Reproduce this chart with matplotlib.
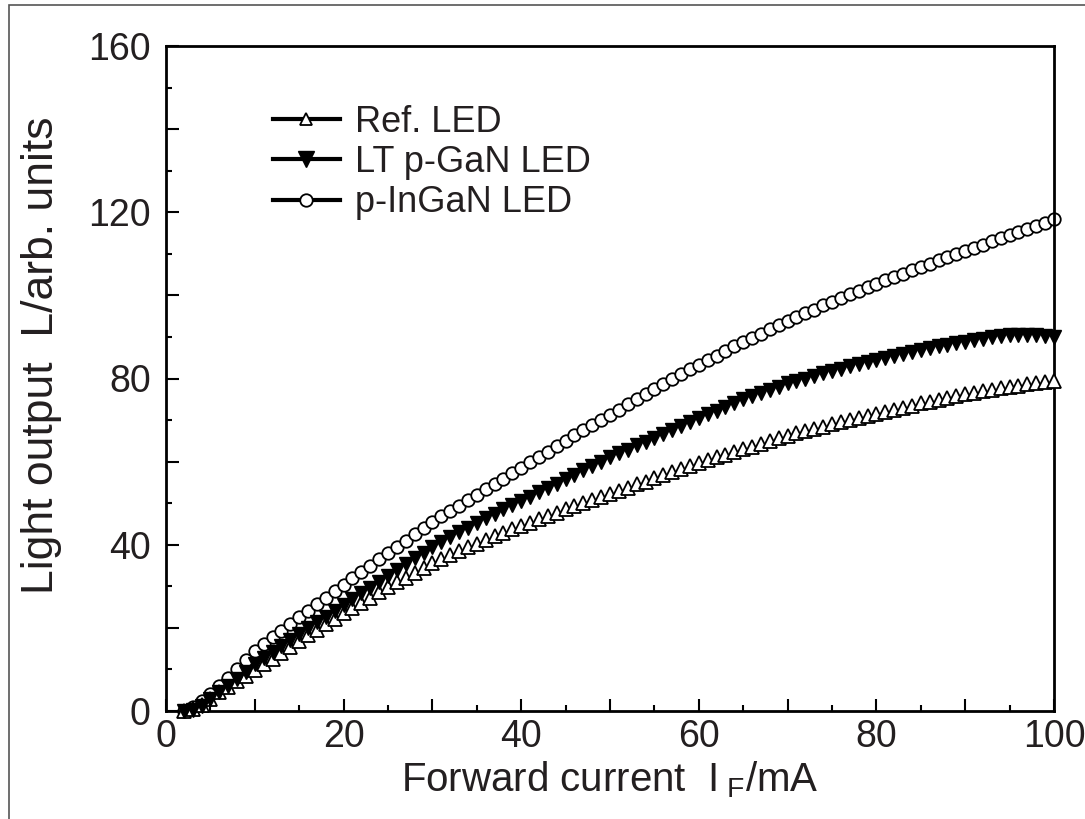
import matplotlib
matplotlib.use("Agg")
import matplotlib.pyplot as plt
from matplotlib.ticker import MultipleLocator, FuncFormatter
from matplotlib.lines import Line2D
from matplotlib.patches import Rectangle

plt.rcParams['font.family'] = ['Liberation Sans', 'DejaVu Sans']
plt.rcParams['mathtext.fontset'] = 'custom'
plt.rcParams['mathtext.rm'] = 'Liberation Sans'
plt.rcParams['mathtext.it'] = 'Liberation Sans'

# Forward current (mA)
current = list(range(2, 101))

ref_led = [0.0, 0.5, 1.5, 3.0, 4.5, 5.8, 7.2, 8.5, 9.8,
           11.2, 12.6, 14.0, 15.4, 16.8, 18.2, 19.5, 20.9, 22.2, 23.5,
           24.8, 26.1, 27.3, 28.6, 29.8, 31.0, 32.1, 33.3, 34.4, 35.5,
           36.5, 37.5, 38.4, 39.4, 40.3, 41.2, 42.0, 42.9, 43.7, 44.5,
           45.3, 46.1, 46.9, 47.7, 48.5, 49.3, 50.0, 50.8, 51.5, 52.2,
           53.0, 53.7, 54.5, 55.2, 56.0, 56.7, 57.4, 58.2, 58.9, 59.6,
           60.3, 61.0, 61.6, 62.3, 63.0, 63.6, 64.3, 64.9, 65.6, 66.2,
           66.8, 67.3, 67.9, 68.4, 69.0, 69.5, 70.0, 70.5, 71.0, 71.5,
           72.0, 72.5, 73.0, 73.5, 74.0, 74.4, 74.9, 75.3, 75.8, 76.2,
           76.6, 76.9, 77.3, 77.6, 78.0, 78.3, 78.6, 78.9, 79.2, 79.5]

lt_pgan = [0.0, 0.3, 1.2, 2.8, 4.5, 6.1, 7.8, 9.5, 11.2,
           12.7, 14.1, 15.6, 17.0, 18.5, 19.9, 21.3, 22.7, 24.1, 25.5,
           26.9, 28.3, 29.7, 31.1, 32.5, 33.9, 35.3, 36.7, 38.1, 39.5,
           40.7, 41.8, 43.0, 44.1, 45.3, 46.4, 47.4, 48.5, 49.5, 50.5,
           51.6, 52.6, 53.7, 54.7, 55.8, 56.8, 57.9, 58.9, 60.0, 61.0,
           62.0, 62.9, 63.9, 64.8, 65.8, 66.7, 67.7, 68.6, 69.6, 70.5,
           71.4, 72.3, 73.2, 74.1, 75.0, 75.8, 76.5, 77.3, 78.0, 78.8,
           79.4, 80.0, 80.7, 81.3, 81.9, 82.4, 82.9, 83.5, 84.0, 84.5,
           85.0, 85.5, 86.0, 86.4, 86.9, 87.3, 87.7, 88.1, 88.5, 88.9,
           89.3, 89.6, 89.9, 90.2, 90.4, 90.5, 90.5, 90.4, 90.2, 90.0]

p_ingan = [0.0, 1.0, 2.4, 4.0, 5.9, 7.9, 10.0, 12.2, 14.4,
           16.1, 17.7, 19.3, 20.9, 22.5, 24.1, 25.7, 27.2, 28.8, 30.3,
           31.9, 33.4, 34.9, 36.5, 38.0, 39.5, 41.0, 42.5, 44.0, 45.5,
           46.8, 48.1, 49.4, 50.7, 52.0, 53.3, 54.6, 55.9, 57.2, 58.5,
           59.8, 61.1, 62.4, 63.7, 65.0, 66.3, 67.5, 68.8, 70.0, 71.3,
           72.5, 73.8, 75.0, 76.3, 77.5, 78.7, 79.9, 81.0, 82.2, 83.3,
           84.4, 85.5, 86.6, 87.7, 88.8, 89.8, 90.8, 91.8, 92.8, 93.8,
           94.7, 95.7, 96.6, 97.6, 98.5, 99.4, 100.3, 101.1, 102.0, 102.8,
           103.6, 104.4, 105.2, 106.0, 106.8, 107.6, 108.4, 109.2, 109.9, 110.7,
           111.5, 112.2, 113.0, 113.7, 114.5, 115.3, 116.0, 116.8, 117.5, 118.3]

labels = ["Ref. LED", "LT p-GaN LED", "p-InGaN LED"]

fig = plt.figure(figsize=(10.85, 8.19), dpi=100)
ax = fig.add_axes([166/1085, 1 - 711/819, (1054-166)/1085, (711-46)/819])

ax.plot(current, ref_led, linestyle='none', marker='^', ms=10,
        mfc='white', mec='black', mew=1.3, clip_on=False, zorder=3)
ax.plot(current, lt_pgan, linestyle='none', marker='v', ms=10,
        mfc='black', mec='black', mew=1.0, clip_on=False, zorder=4)
ax.plot(current, p_ingan, linestyle='none', marker='o', ms=9,
        mfc='white', mec='black', mew=1.3, clip_on=False, zorder=2)

ax.set_xlim(0, 100)
ax.set_ylim(0, 160)

ax.xaxis.set_major_locator(MultipleLocator(10))
ax.xaxis.set_minor_locator(MultipleLocator(5))
ax.yaxis.set_major_locator(MultipleLocator(20))
ax.yaxis.set_minor_locator(MultipleLocator(10))
ax.xaxis.set_major_formatter(FuncFormatter(lambda v, p: f"{v:.0f}" if round(v) % 20 == 0 else ""))
ax.yaxis.set_major_formatter(FuncFormatter(lambda v, p: f"{v:.0f}" if round(v) % 40 == 0 else ""))

ax.tick_params(which='both', direction='in', top=False, right=False, width=1.5, colors='black')
ax.tick_params(which='major', length=9)
ax.tick_params(which='minor', length=4.5)
ax.tick_params(axis='x', which='major', labelsize=27, pad=6, labelcolor='#231f20')
ax.tick_params(axis='y', which='major', labelsize=27, pad=11, labelcolor='#231f20')
for s in ax.spines.values():
    s.set_linewidth(2.0)

ax.set_xlabel(r'Forward current  $\mathrm{I}_{\ \mathrm{F}}$/mA', fontsize=29, color='#231f20', labelpad=3)
ax.set_ylabel('Light output  L/arb. units', fontsize=32, color='#231f20', labelpad=19)
ax.yaxis.label.set_y(0.535)

handles = [
    Line2D([], [], color='black', lw=3, marker='^', ms=9, mfc='white', mec='black', mew=1.3),
    Line2D([], [], color='black', lw=3, marker='v', ms=12, mfc='black', mec='black'),
    Line2D([], [], color='black', lw=3, marker='o', ms=9, mfc='white', mec='black', mew=1.3),
]
leg = ax.legend(handles, labels, loc='upper left', bbox_to_anchor=(0.12, 0.912),
                frameon=False, fontsize=26, handlelength=1.86, handletextpad=0.42,
                labelspacing=0.15, borderpad=0, borderaxespad=0)
for t in leg.get_texts():
    t.set_color('#231f20')

fig.add_artist(Rectangle((9/1085, -0.1), 1.5, (819-5)/819 + 0.1, transform=fig.transFigure,
                         fill=False, edgecolor='#555555', linewidth=1.2))

fig.savefig('out.png', dpi=100, facecolor='white')
